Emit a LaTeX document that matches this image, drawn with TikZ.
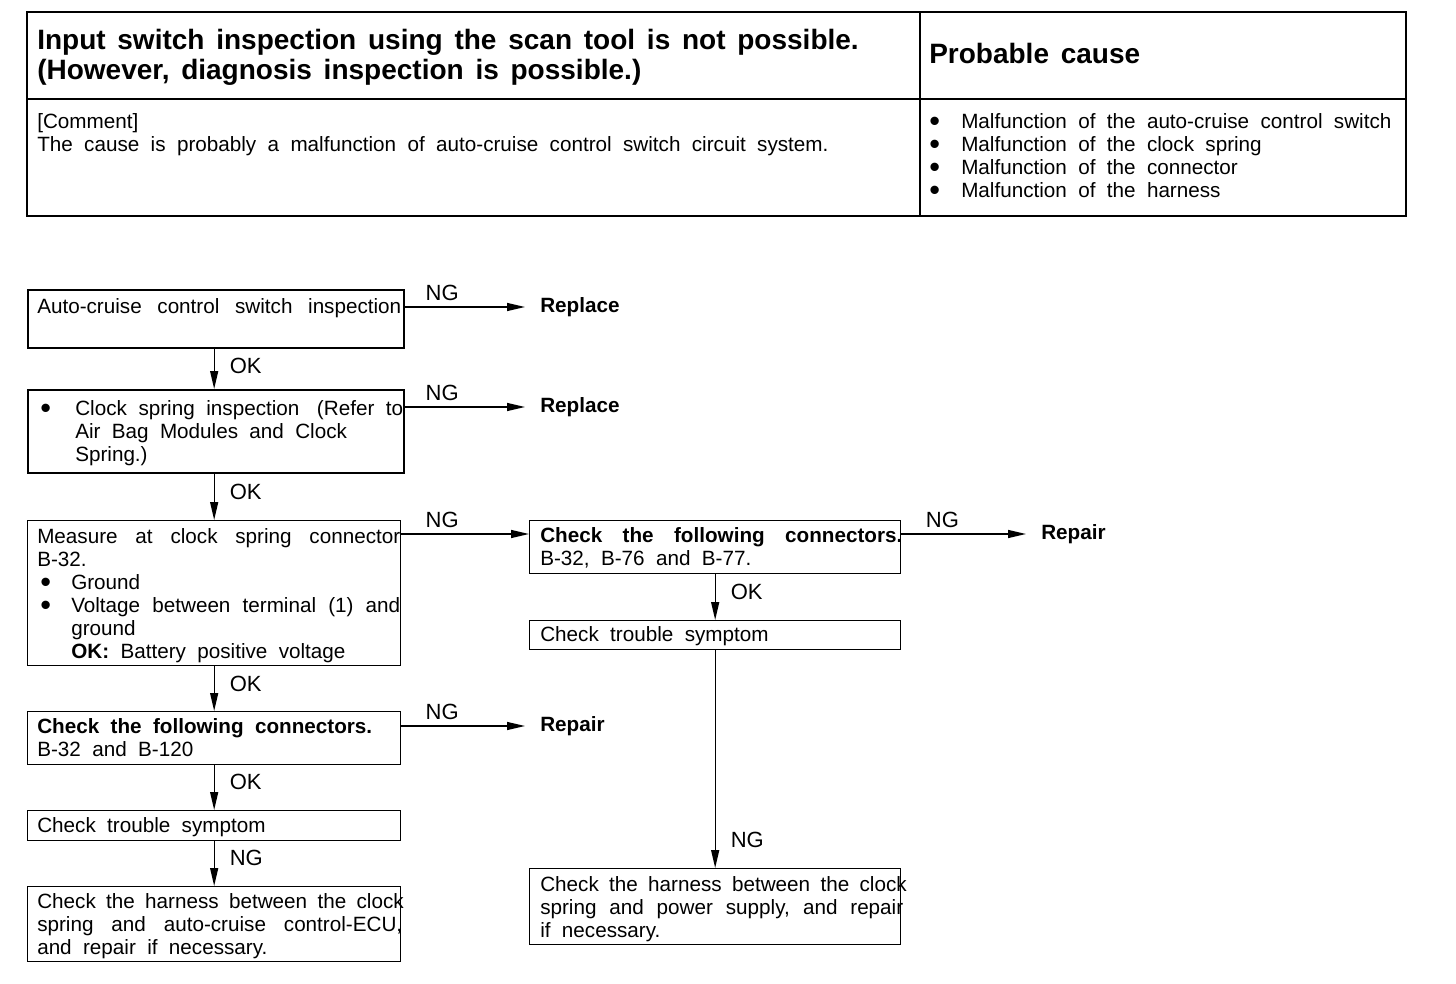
\documentclass[tikz,border=0pt]{standalone}
\usepackage{fontspec}
\setmainfont{Liberation Sans}
\usetikzlibrary{arrows.meta}
\newdimen\px \px=0.75pt
\newcommand\bodyfont{\fontsize{15.5}{17.25}\selectfont}
\newcommand\wsp{\spaceskip=.55em plus .8em minus .05em\relax}
\newcommand\twsp{\spaceskip=.42em plus .3em minus .05em\relax}
\newcommand\labfont{\fontsize{16.5}{18}\selectfont}
\newcommand\titfont{\fontsize{21}{22.5}\selectfont\bfseries}
\newcommand\bul{\raisebox{-2.25pt}[0pt][0pt]{\fontsize{23}{23}\selectfont\textbullet}}
\begin{document}
\begin{tikzpicture}[x=0.75pt,y=-0.75pt,
  txt/.style={inner sep=0pt, anchor=base west, align=left, font=\bodyfont, execute at begin node=\wsp},
  tittxt/.style={inner sep=0pt, anchor=base west, align=left, font=\titfont, execute at begin node=\twsp},
  thickbox/.style={draw, line width=1.5pt, inner sep=0pt, anchor=north west},
  thinbox/.style={draw, line width=1pt, inner sep=0pt, anchor=north west},
  result/.style={font=\bodyfont\bfseries, inner xsep=11.25pt, inner ysep=0pt, anchor=west},
  lab/.style={font=\labfont, inner sep=0pt},
  arr/.style={line width=1pt, -{Triangle[length=13.5pt,width=6pt]}},
]
\useasboundingbox (0,0) rectangle (1456,984);
\fill[white] (0,0) rectangle (1456,984);

% ---------- table ----------
\draw[line width=1.8pt] (27,12) rectangle (1406,216);
\draw[line width=.8pt] (27,99) -- (1406,99);
\draw[line width=.8pt] (920,12) -- (920,216);
\node[tittxt, text width=700pt] (title) at (37,50)
  {Input switch inspection using the scan tool is not possible.\\(However, diagnosis inspection is possible.)};
\node[tittxt, text width=300pt] (probable) at (929,64) {Probable cause};
\node[txt, text width=660pt] (comment) at (37,129)
  {[Comment]\\The cause is probably a malfunction of auto-cruise control switch circuit system.};
\node[txt, text width=380pt] (causes) at (929,129)
  {\makebox[32\px][l]{\bul}Malfunction of the auto-cruise control switch\\
   \makebox[32\px][l]{\bul}Malfunction of the clock spring\\
   \makebox[32\px][l]{\bul}Malfunction of the connector\\
   \makebox[32\px][l]{\bul}Malfunction of the harness};

% ---------- left column boxes ----------
\node[thickbox, minimum width=282pt, minimum height=43.5pt] (b1) at (27,289) {};
\node[txt, text width=290pt] (t1) at (37,313)
  {\makebox[364\px][s]{Auto-cruise control switch inspection}};

\node[thickbox, minimum width=282pt, minimum height=62.25pt] (b2) at (27,389) {};
\node[txt, text width=290pt] (t2) at (37,415)
  {\makebox[38\px][l]{\hspace{3\px}\bul}\makebox[328\px][s]{Clock spring inspection\hspace{6\px} (Refer to}\\
   \hspace*{38\px}Air Bag Modules and Clock\\
   \hspace*{38\px}Spring.)};

\node[thinbox, minimum width=279.75pt, minimum height=108.75pt] (b3) at (27,520) {};
\node[txt, text width=290pt] (t3) at (37,543)
  {\makebox[363\px][s]{Measure at clock spring connector}\\
   B-32.\\
   \makebox[34\px][l]{\hspace{3\px}\bul}Ground\\
   \makebox[34\px][l]{\hspace{3\px}\bul}\makebox[329\px][s]{Voltage between terminal (1) and}\\
   \hspace*{34\px}ground\\
   \hspace*{34\px}\textbf{OK:} Battery positive voltage};

\node[thinbox, minimum width=279.75pt, minimum height=39.75pt] (b4) at (27,711) {};
\node[txt, text width=290pt] (t4) at (37,733)
  {\textbf{Check the following connectors.}\\B-32 and B-120};

\node[thinbox, minimum width=279.75pt, minimum height=22.5pt] (b5) at (27,810) {};
\node[txt, text width=290pt] (t5) at (37,832) {Check trouble symptom};

\node[thinbox, minimum width=279.75pt, minimum height=56.25pt] (b6) at (27,886) {};
\node[txt, text width=290pt] (t6) at (37,908)
  {\makebox[365\px][s]{Check the harness between the clock}\\
   \makebox[365\px][s]{spring and auto-cruise control-ECU,}\\
   and repair if necessary.};

% ---------- right column boxes ----------
\node[thinbox, minimum width=278.25pt, minimum height=39.75pt] (r1) at (529,520) {};
\node[txt, text width=290pt] (u1) at (540,542)
  {\makebox[362\px][s]{\bfseries Check the following connectors.}\\B-32, B-76 and B-77.};

\node[thinbox, minimum width=278.25pt, minimum height=21.75pt] (r2) at (529,620) {};
\node[txt, text width=290pt] (u2) at (540,641) {Check trouble symptom};

\node[thinbox, minimum width=278.25pt, minimum height=57pt] (r3) at (529,868) {};
\node[txt, text width=290pt] (u3) at (540,891)
  {\makebox[363\px][s]{Check the harness between the clock}\\
   \makebox[363\px][s]{spring and power supply, and repair}\\
   if necessary.};

% ---------- results ----------
\node[result] (rep1) at (525,307) {Replace};
\node[result] (rep2) at (525,407) {Replace};
\node[result] (fix1) at (1026,534) {Repair};
\node[result] (fix2) at (525,726) {Repair};

% ---------- connectors ----------
\draw[arr] ([yshift=-13.5pt]b1.north east) -- node[lab, pos=.31, above=4.5pt] {NG} (rep1.west);
\draw[arr] ([yshift=-13.5pt]b2.north east) -- node[lab, pos=.31, above=4.5pt] {NG} (rep2.west);
\draw[arr] ([yshift=-10.5pt]b3.north east) -- node[lab, pos=.32, above=4.5pt] {NG} ([yshift=-10.5pt]r1.north west);
\draw[arr] ([yshift=-10.5pt]r1.north east) -- node[lab, pos=.33, above=4.5pt] {NG} (fix1.west);
\draw[arr] ([yshift=-11.25pt]b4.north east) -- node[lab, pos=.33, above=4.5pt] {NG} (fix2.west);

\draw[arr] (b3.north |- b1.south) -- node[lab, pos=.43, right=11.25pt] {OK} (b3.north |- b2.north);
\draw[arr] (b3.north |- b2.south) -- node[lab, pos=.40, right=11.25pt] {OK} (b3.north);
\draw[arr] (b3.south) -- node[lab, pos=.39, right=11.25pt] {OK} (b4.north);
\draw[arr] (b4.south) -- node[lab, pos=.37, right=11.25pt] {OK} (b5.north);
\draw[arr] (b5.south) -- node[lab, pos=.37, right=11.25pt] {NG} (b6.north);

\draw[arr] (r1.south) -- node[lab, pos=.38, right=11.25pt] {OK} (r2.north);
\draw[arr] (r2.south) -- node[lab, pos=.87, right=11.25pt] {NG} (r3.north);
\end{tikzpicture}
\end{document}
